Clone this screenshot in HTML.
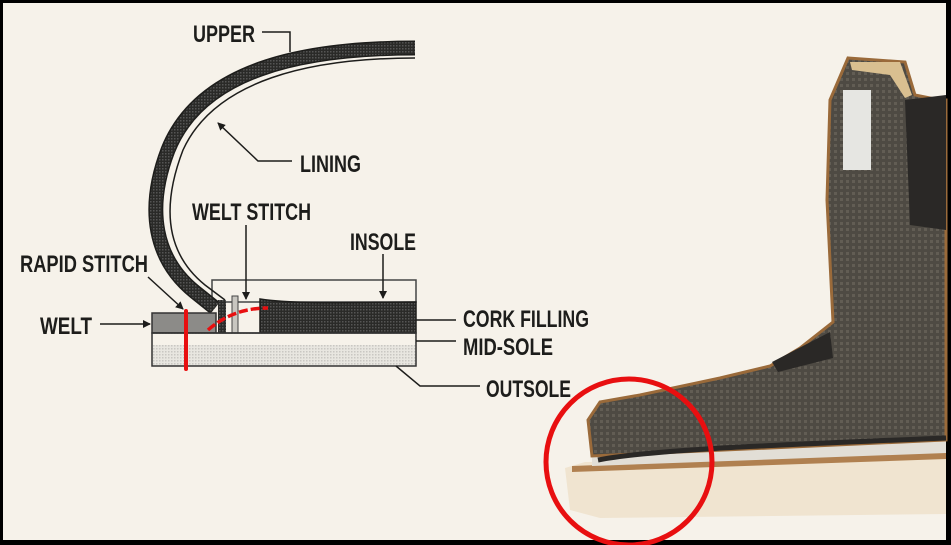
<!DOCTYPE html>
<html><head><meta charset="utf-8"><style>
html,body{margin:0;padding:0;background:#000}
#c{position:absolute;left:0;top:0;width:951px;height:545px;background:#000}
svg{position:absolute;left:0;top:0}
text{font-family:"Liberation Sans",sans-serif;font-weight:bold;font-size:24px;fill:#1d1d1b}
</style></head><body><div id="c">
<svg width="951" height="545" viewBox="0 0 951 545">
<defs>
<pattern id="chk" width="3" height="3" patternUnits="userSpaceOnUse"><rect width="3" height="3" fill="#2a2a28"/><rect width="1.5" height="1.5" fill="#555"/></pattern>
<pattern id="dot" width="3" height="3" patternUnits="userSpaceOnUse"><rect width="3" height="3" fill="#e8e6e0"/><rect width="1.5" height="1.5" fill="#c9c7c2"/></pattern>
<pattern id="weave" width="6" height="6" patternUnits="userSpaceOnUse"><rect width="6" height="6" fill="#4e4a43"/><rect width="3" height="3" fill="#625d54"/></pattern>
<marker id="ah" markerWidth="8" markerHeight="8" refX="7" refY="4" orient="auto" markerUnits="userSpaceOnUse"><path d="M0,0 L8,4 L0,8 Z" fill="#1d1d1b"/></marker>
</defs>
<rect x="3" y="3" width="943" height="537" fill="#f6f2ea"/>
<!-- boot -->
<path d="M585,462 L565,468 L570,510 L600,518 L946,514 L946,458 Z" fill="#f0e4d0"/>
<path d="M572,466 L946,452 L946,459 L572,472 Z" fill="#b08050"/>
<path d="M592,456 L946,438 L946,453 L592,466 Z" fill="#e2ded6"/>
<path d="M848,58 L905,62 L915,95 L940,100 L946,100 L946,440 L592,456 L588,420 L600,402 L640,395 L720,378 L770,366 L800,348 L833,322 L827,200 L830,100 Z" fill="url(#weave)" stroke="#9a6a3a" stroke-width="3"/>
<path d="M905,100 L946,95 L946,230 L910,225 Z" fill="#2a2826"/>
<path d="M772,362 L830,332 L833,358 L778,372 Z" fill="#2a2826"/>
<path d="M850,62 L900,62 L912,95 L905,98 L890,75 L852,70 Z" fill="#d9bf90"/>
<rect x="843" y="90" width="28" height="80" fill="#e6e6e2"/>
<path d="M598,460 C650,450 750,446 946,438" stroke="#2a2826" stroke-width="5" fill="none"/>
<circle cx="629" cy="462" r="83" fill="none" stroke="#e80f10" stroke-width="5"/>
<!-- diagram -->
<rect x="212" y="280" width="204" height="22" fill="none" stroke="#444" stroke-width="1.5"/>
<path d="M415,48 C300,48 200,70 168,150 C145,210 155,260 195,292 L215,308" fill="none" stroke="#1d1d1b" stroke-width="15"/>
<path d="M415,48 C300,48 200,70 168,150 C145,210 155,260 195,292 L215,308" fill="none" stroke="url(#chk)" stroke-width="12"/>
<path d="M415,58 C310,58 215,80 183,150 C160,210 168,255 205,285 L225,300" fill="none" stroke="#1d1d1b" stroke-width="1.5"/>
<rect x="152" y="313" width="64" height="20" fill="#8c8b88" stroke="#333" stroke-width="1.5"/>
<rect x="218" y="300" width="8" height="33" fill="url(#chk)"/>
<rect x="232" y="296" width="6" height="37" fill="#c8c6c0" stroke="#444"/>
<path d="M260,299 C300,305 360,302 416,302 L416,333 L260,333 Z" fill="url(#chk)" stroke="#1d1d1b" stroke-width="1.5"/>
<rect x="152" y="333" width="264" height="33" fill="url(#dot)" stroke="#333" stroke-width="1.5"/>
<rect x="153" y="334" width="262" height="11" fill="#f6f2ea"/>
<line x1="152" y1="333" x2="416" y2="333" stroke="#333" stroke-width="1.5"/>
<line x1="186" y1="311" x2="186" y2="369" stroke="#e80f10" stroke-width="4" stroke-linecap="round"/>
<path d="M208,330 C225,315 245,308 268,308" fill="none" stroke="#e80f10" stroke-width="3.5" stroke-dasharray="9,3"/>
<!-- labels -->
<text x="193" y="42" textLength="62" lengthAdjust="spacingAndGlyphs">UPPER</text>
<polyline points="262,32 290,32 290,52" fill="none" stroke="#1d1d1b" stroke-width="1.5"/>
<text x="300" y="172" textLength="61" lengthAdjust="spacingAndGlyphs">LINING</text>
<polyline points="292,161 258,161 218,123" fill="none" stroke="#1d1d1b" stroke-width="1.5" marker-end="url(#ah)"/>
<text x="192" y="220" textLength="119" lengthAdjust="spacingAndGlyphs">WELT STITCH</text>
<line x1="246" y1="225" x2="246" y2="299" stroke="#1d1d1b" stroke-width="1.5" marker-end="url(#ah)"/>
<text x="350" y="250" textLength="66" lengthAdjust="spacingAndGlyphs">INSOLE</text>
<line x1="383" y1="254" x2="383" y2="298" stroke="#1d1d1b" stroke-width="1.5" marker-end="url(#ah)"/>
<text x="20" y="272" textLength="128" lengthAdjust="spacingAndGlyphs">RAPID STITCH</text>
<line x1="148" y1="277" x2="183" y2="309" stroke="#1d1d1b" stroke-width="1.5" marker-end="url(#ah)"/>
<text x="40" y="334" textLength="52" lengthAdjust="spacingAndGlyphs">WELT</text>
<line x1="100" y1="324" x2="150" y2="324" stroke="#1d1d1b" stroke-width="1.5" marker-end="url(#ah)"/>
<text x="463" y="327" textLength="126" lengthAdjust="spacingAndGlyphs">CORK FILLING</text>
<line x1="416" y1="320" x2="456" y2="320" stroke="#1d1d1b" stroke-width="1.5"/>
<text x="463" y="355" textLength="90" lengthAdjust="spacingAndGlyphs">MID-SOLE</text>
<line x1="416" y1="341" x2="456" y2="341" stroke="#1d1d1b" stroke-width="1.5"/>
<text x="486" y="397" textLength="85" lengthAdjust="spacingAndGlyphs">OUTSOLE</text>
<polyline points="396,366 420,386 480,386" fill="none" stroke="#1d1d1b" stroke-width="1.5"/>
</svg></div></body></html>
